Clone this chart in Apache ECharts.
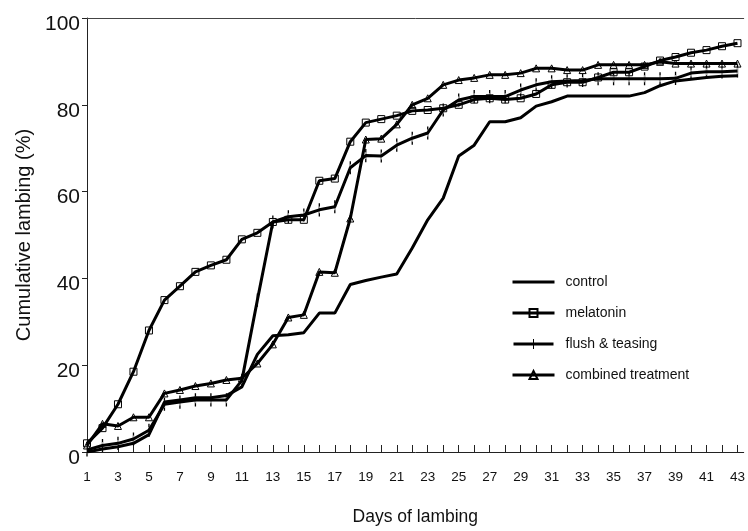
<!DOCTYPE html>
<html>
<head>
<meta charset="utf-8">
<script src="https://cdn.jsdelivr.net/npm/echarts@6/dist/echarts.min.js"></script>
<style>
  html, body { margin: 0; padding: 0; background: #fff; }
  #main { width: 748px; height: 531px; }
</style>
</head>
<body>
<div id="main"></div>
<script>
var days = [1, 2, 3, 4, 5, 6, 7, 8, 9, 10, 11, 12, 13, 14, 15, 16, 17, 18, 19, 20, 21, 22,
    23, 24, 25, 26, 27, 28, 29, 30, 31, 32, 33, 34, 35, 36, 37, 38, 39, 40, 41, 42, 43];
var dayLabels = [1, 3, 5, 7, 9, 11, 13, 15, 17, 19, 21, 23, 25, 27, 29, 31, 33, 35, 37, 39, 41, 43];
var yTicks = [0, 20, 40, 60, 80, 100];

// cumulative lambing (%) per day
var control = [0, 0.7, 1.2, 2, 4, 11.5, 12, 12.5, 12.5, 13, 15, 22.5, 26.8, 27, 27.5, 32, 32,
    38.6, 39.5, 40.3, 41, 47, 53.5, 58.5, 68.2, 70.7, 76.1, 76.1, 77, 79.7, 80.7, 82, 82, 82,
    82, 82, 82.8, 84.4, 85.5, 85.9, 86.3, 86.6, 86.7];
var melatonin = [2, 5.5, 11, 18.5, 28, 35, 38.2, 41.5, 43, 44.3, 49, 50.5, 53, 53.5, 53.5,
    62.5, 63, 71.5, 75.9, 76.7, 77.5, 78.6, 78.8, 79.2, 80, 81.2, 81.5, 81.2, 81.5, 82.5, 84.6,
    85.2, 85.2, 86.3, 87.5, 87.5, 88.8, 90.2, 91, 92, 92.6, 93.5, 94.2];
var flush = [0.5, 1.5, 2, 3, 5, 11, 11.5, 12, 12, 12, 16.5, 35, 53, 54.2, 54.6, 55.8, 56.5,
    65.5, 68.3, 68.2, 70.7, 72.3, 73.5, 78.8, 81.1, 81.9, 81.9, 81.9, 83.4, 84.6, 85.3, 85.5,
    85.6, 86, 86, 86, 86, 86, 86.1, 87.3, 87.6, 87.6, 87.8];
var combined = [1.5, 6.5, 6, 8, 8, 13.5, 14.3, 15.2, 15.8, 16.6, 17, 20.4, 24.8, 31, 31.6,
    41.5, 41.3, 53.8, 72, 72.2, 75.5, 80, 81.5, 84.6, 85.7, 86.2, 86.9, 86.9, 87.3, 88.4, 88.4,
    88, 88, 89.2, 89.2, 89.2, 89.2, 89.9, 89.5, 89.5, 89.5, 89.5, 89.5];

function pairs(vals) {
    return days.map(function (d, i) { return [d, vals[i]]; });
}

var font = '"Liberation Sans", Arial, Helvetica, sans-serif';
var hollow = { color: 'rgba(0,0,0,0)', borderColor: '#000', borderWidth: 1 };
var tickMark = 'path://M0,0L1,0L1,10L0,10Z';

function mkSeries(name, vals, symbol, size) {
    return {
        name: name,
        type: 'line',
        data: pairs(vals),
        symbol: symbol,
        symbolSize: size,
        showSymbol: symbol !== 'none',
        lineStyle: { color: '#000', width: 3 },
        itemStyle: hollow,
        z: 2
    };
}

var chart = echarts.init(document.getElementById('main'));
option = {
    animation: false,
    backgroundColor: '#fff',
    textStyle: { fontFamily: font },
    grid: { left: 87, right: 0, top: 18, bottom: 79 },
    legend: {
        orient: 'vertical',
        left: 506,
        top: 270,
        itemWidth: 42,
        itemHeight: 10,
        itemGap: 17,
        lineStyle: { width: 3 },
        textStyle: { fontFamily: font, fontSize: 14, color: '#111', padding: [0, 0, 0, 6] },
        data: [
            { name: 'control', icon: 'path://M0,0H40V3H0Z', itemStyle: { color: '#000', borderWidth: 0 } },
            'melatonin',
            { name: 'flush & teasing', icon: 'path://M0,3.5H19.5V0H20.5V3.5H40V6.5H20.5V10H19.5V6.5H0Z',
              itemStyle: { color: '#000', borderWidth: 0 } },
            'combined treatment'
        ]
    },
    xAxis: [{
        type: 'value',
        min: 1,
        max: 43.4,
        interval: 1,
        name: 'Days of lambing',
        nameLocation: 'middle',
        nameGap: 56,
        nameTextStyle: { fontFamily: font, fontSize: 17.5, color: '#111' },
        axisLine: { lineStyle: { color: '#222', width: 1 } },
        axisTick: { inside: true, length: 7, customValues: days, lineStyle: { color: '#222' } },
        axisLabel: { customValues: dayLabels, margin: 18, fontSize: 13.5, color: '#111', fontFamily: font },
        splitLine: { show: false }
    }, {
        type: 'value',
        position: 'top',
        min: 1,
        max: 43.4,
        axisLine: { show: true, lineStyle: { color: '#444', width: 1 } },
        axisTick: { show: false },
        axisLabel: { show: false },
        splitLine: { show: false }
    }],
    yAxis: {
        type: 'value',
        min: 0,
        max: 100,
        interval: 20,
        name: 'Cumulative lambing (%)',
        nameLocation: 'middle',
        nameGap: 52,
        nameTextStyle: { fontFamily: font, fontSize: 20, color: '#111' },
        axisLine: { show: true, lineStyle: { color: '#222', width: 1 } },
        axisTick: { show: true, length: 5, customValues: yTicks, lineStyle: { color: '#222' } },
        axisLabel: { customValues: yTicks, margin: 7, fontSize: 21, color: '#111', fontFamily: font,
            verticalAlign: 'top', lineHeight: 12 },
        splitLine: { show: false }
    },
    series: [
        mkSeries('control', control, 'none', 0),
        mkSeries('melatonin', melatonin, 'rect', 7),
        mkSeries('flush & teasing', flush, tickMark, [1, 10]),
        mkSeries('combined treatment', combined, 'triangle', 7)
    ]
};
chart.setOption(option);
</script>
</body>
</html>
